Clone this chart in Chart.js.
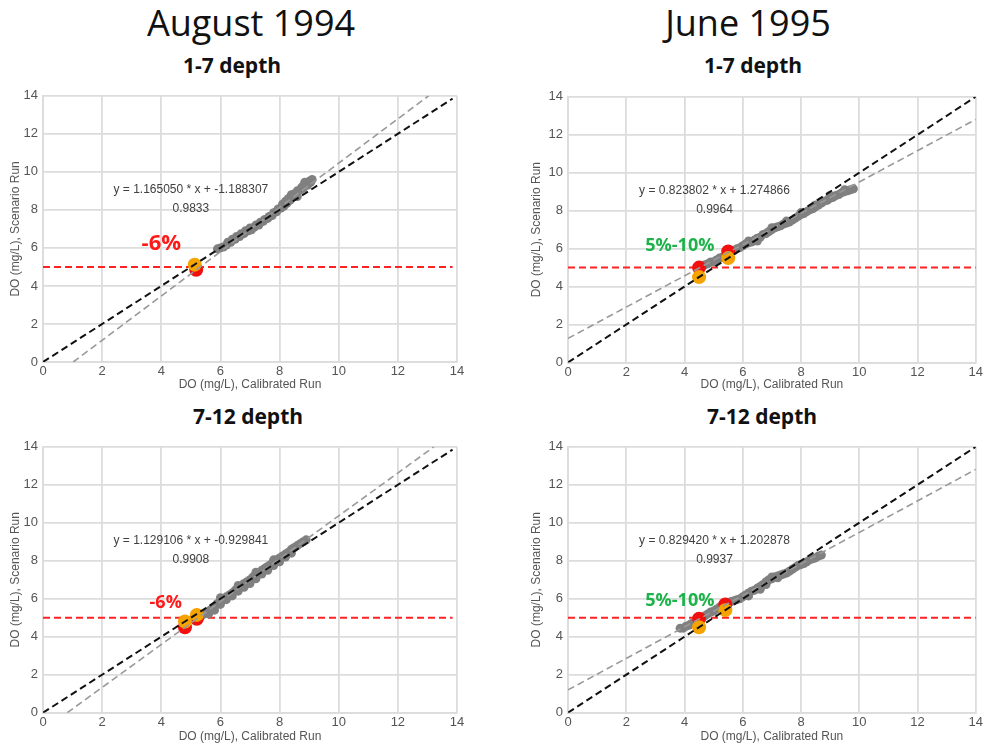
<!DOCTYPE html>
<html>
<head>
<meta charset="utf-8">
<script src="https://cdn.jsdelivr.net/npm/chart.js@4.4.1/dist/chart.umd.min.js"></script>
<style>
  html, body { margin: 0; padding: 0; background: #fff; }
  body { width: 986px; height: 749px; position: relative; overflow: hidden; }
  canvas { position: absolute; }
  .big { position: absolute; width: 400px; text-align: center; font-family: "Open Sans", sans-serif; font-size: 36px; line-height: 36px; color: #111; }
  .sub { position: absolute; width: 300px; text-align: center; font-family: "Open Sans", sans-serif; font-weight: 700; font-size: 21px; line-height: 22px; color: #111; }
</style>
</head>
<body>
<div class="big" style="left:51px; top:5px;">August 1994</div>
<div class="big" style="left:548px; top:5px;">June 1995</div>
<div class="sub" style="left:82px; top:54px;">1-7 depth</div>
<div class="sub" style="left:603px; top:54px;">1-7 depth</div>
<div class="sub" style="left:98px; top:405px;">7-12 depth</div>
<div class="sub" style="left:612px; top:405px;">7-12 depth</div>

<canvas id="c1" width="470" height="309" style="left:0px; top:83px;"></canvas>
<canvas id="c2" width="465" height="308" style="left:520px; top:84px;"></canvas>
<canvas id="c3" width="470" height="310" style="left:0px; top:434px;"></canvas>
<canvas id="c4" width="465" height="310" style="left:520px; top:434px;"></canvas>

<script>
// ---------- DATA ----------
const axisTicks = [0, 2, 4, 6, 8, 10, 12, 14];
const xAxisTitle = "DO (mg/L), Calibrated Run";
const yAxisTitle = "DO (mg/L), Scenario Run";

// Grey model points (Calibrated DO, Scenario DO)
const aug17Cloud = [[5.9,5.95],[6.0,6.0],[6.1,6.05],[6.2,6.15],[6.25,6.3],[6.35,6.3],[6.4,6.45],[6.5,6.45],[6.55,6.6],[6.65,6.6],[6.7,6.75],[6.8,6.75],[6.85,6.9],[6.95,6.9],[7.0,7.05],[7.05,6.95],[7.15,7.1],[7.2,7.2],[7.3,7.2],[7.35,7.35],[7.45,7.4],[7.5,7.5],[7.6,7.55],[7.65,7.65],[7.75,7.7],[7.8,7.85],[7.9,7.9],[7.95,8.05],[8.05,8.1],[8.1,8.3],[8.15,8.2],[8.2,8.45],[8.25,8.35],[8.3,8.6],[8.35,8.5],[8.45,8.7],[8.5,8.85],[8.55,8.75],[8.6,9.0],[8.7,9.05],[8.75,9.2],[8.8,9.15],[8.9,9.35],[8.95,9.3],[9.0,9.5],[9.05,9.45],[9.1,9.6],[8.4,8.8],[8.6,8.7],[8.85,9.45]];
const jun17Cloud = [[4.6,5.05],[4.7,5.15],[4.8,5.2],[4.9,5.3],[5.0,5.3],[5.1,5.4],[5.2,5.5],[5.3,5.55],[5.4,5.6],[5.5,5.7],[5.6,5.85],[5.7,5.9],[5.8,6.0],[5.9,6.05],[6.0,6.15],[6.1,6.25],[6.2,6.3],[6.2,6.4],[6.3,6.35],[6.4,6.45],[6.5,6.55],[6.5,6.4],[6.6,6.6],[6.7,6.75],[6.8,6.8],[6.9,6.9],[7.0,7.0],[7.0,7.1],[7.1,7.1],[7.2,7.15],[7.3,7.2],[7.4,7.3],[7.5,7.35],[7.5,7.45],[7.6,7.4],[7.7,7.5],[7.8,7.6],[7.9,7.7],[8.0,7.8],[8.0,7.9],[8.1,7.85],[8.2,7.95],[8.3,8.05],[8.4,8.1],[8.5,8.2],[8.5,8.3],[8.6,8.3],[8.7,8.4],[8.8,8.5],[8.9,8.55],[9.0,8.65],[9.0,8.8],[9.1,8.7],[9.2,8.8],[9.3,8.85],[9.4,8.95],[9.5,9.0],[9.5,9.1],[9.6,9.05],[9.7,9.1],[9.8,9.15]];
const aug712Cloud = [[5.3,5.0],[5.4,5.15],[5.5,5.25],[5.6,5.35],[5.6,5.2],[5.7,5.45],[5.8,5.6],[5.8,5.4],[5.9,5.75],[6.0,5.85],[6.0,5.7],[6.0,6.05],[6.1,5.95],[6.2,6.1],[6.2,5.95],[6.3,6.2],[6.4,6.3],[6.4,6.15],[6.5,6.45],[6.6,6.55],[6.6,6.4],[6.6,6.7],[6.7,6.65],[6.8,6.8],[6.8,6.6],[6.9,6.9],[7.0,7.0],[7.0,6.8],[7.1,7.15],[7.2,7.25],[7.2,7.05],[7.2,7.4],[7.3,7.35],[7.4,7.5],[7.4,7.3],[7.5,7.6],[7.6,7.7],[7.6,7.5],[7.7,7.8],[7.8,7.95],[7.8,7.75],[7.8,8.05],[7.9,8.05],[8.0,8.15],[8.0,7.95],[8.1,8.25],[8.2,8.35],[8.2,8.2],[8.3,8.45],[8.4,8.6],[8.4,8.4],[8.5,8.7],[8.6,8.8],[8.7,8.9],[8.8,9.0],[8.9,9.1]];
const jun712Cloud = [[3.85,4.45],[3.95,4.45],[4.05,4.55],[4.15,4.6],[4.25,4.7],[4.35,4.8],[4.45,4.9],[4.6,5.0],[4.7,5.1],[4.8,5.2],[4.9,5.3],[5.0,5.35],[5.1,5.45],[5.2,5.55],[5.3,5.65],[5.4,5.7],[5.5,5.8],[5.6,5.85],[5.7,5.9],[5.8,5.95],[5.9,6.0],[6.0,6.1],[6.1,6.2],[6.2,6.3],[6.2,6.15],[6.3,6.4],[6.4,6.45],[6.5,6.55],[6.6,6.65],[6.6,6.5],[6.7,6.75],[6.8,6.9],[6.8,6.75],[6.9,7.0],[7.0,7.05],[7.0,7.15],[7.1,7.15],[7.2,7.2],[7.2,7.1],[7.3,7.25],[7.4,7.3],[7.5,7.35],[7.6,7.45],[7.7,7.55],[7.8,7.65],[7.9,7.75],[8.0,7.8],[8.1,7.85],[8.2,7.95],[8.3,8.05],[8.4,8.1],[8.5,8.15],[8.6,8.25],[8.7,8.3]];

// Highlighted points
const aug17Red = [[5.18,4.85]];
const aug17Orange = [[5.13,5.12]];
const jun17Red = [[4.5,5.0],[5.5,5.85]];
const jun17Orange = [[4.5,4.5],[5.5,5.5]];
const aug712Red = [[4.8,4.5],[5.2,4.95]];
const aug712Orange = [[4.8,4.8],[5.2,5.15]];
const jun712Red = [[4.5,4.95],[5.4,5.7]];
const jun712Orange = [[4.5,4.5],[5.4,5.4]];

// Reference lines (endpoints in data units)
const aug17OneToOne = [[0,0],[13.85,13.85]];
const jun17OneToOne = [[0,0],[14,14]];
const aug712OneToOne = [[0,0],[13.85,13.85]];
const jun712OneToOne = [[0,0],[14,14]];
const aug17Fit = [[1.02,0],[13.04,14]];
const jun17Fit = [[0,1.27],[14,12.81]];
const aug712Fit = [[0.82,0],[13.22,14]];
const jun712Fit = [[0,1.20],[14,12.81]];
const aug17Threshold = [[0,5],[13.85,5]];
const jun17Threshold = [[0,5],[14,5]];
const aug712Threshold = [[0,5],[13.85,5]];
const jun712Threshold = [[0,5],[14,5]];

// Annotation texts and their anchor values
const equations = ["y = 1.165050 * x + -1.188307", "y = 0.823802 * x + 1.274866", "y = 1.129106 * x + -0.929841", "y = 0.829420 * x + 1.202878"];
const rSquared = ["0.9833", "0.9964", "0.9908", "0.9937"];
const eqAnchor = [[5.0,9.05],[5.03,9.06],[5.0,9.06],[5.03,9.06]];
const r2Anchor = [[5.0,8.05],[5.03,8.05],[5.0,8.05],[5.03,8.05]];
const changeLabels = ["-6%", "5%-10%", "-6%", "5%-10%"];
const changeColors = ["#ff1a1a", "#1db34a", "#ff1a1a", "#1db34a"];
const changeSizes = [22, 18, 18, 18];
const changeAnchor = [[4.0,6.23],[3.84,6.14],[4.15,5.79],[3.84,5.88]];

// ---------- CHART ----------
const toPts = a => a.map(p => ({x: p[0], y: p[1]}));

const textPlugin = {
  id: 'panelText',
  afterDatasetsDraw(chart) {
    const i = chart.options.plugins.panelText.index;
    const {ctx, scales: {x, y}} = chart;
    ctx.save();
    ctx.textAlign = 'center';
    ctx.textBaseline = 'middle';
    ctx.fillStyle = '#404040';
    ctx.font = '12px "Liberation Sans", Arial, sans-serif';
    ctx.fillText(equations[i], x.getPixelForValue(eqAnchor[i][0]), y.getPixelForValue(eqAnchor[i][1]));
    ctx.fillText(rSquared[i], x.getPixelForValue(r2Anchor[i][0]), y.getPixelForValue(r2Anchor[i][1]));
    ctx.fillStyle = changeColors[i];
    ctx.font = 'bold ' + changeSizes[i] + 'px "Open Sans", sans-serif';
    ctx.fillText(changeLabels[i], x.getPixelForValue(changeAnchor[i][0]), y.getPixelForValue(changeAnchor[i][1]));
    ctx.restore();
  }
};

function makePanel(id, index, cloud, red, orange, oneToOne, fit, threshold, yW, xH, yTitlePad, padRight) {
  const lineDs = (data, color, width, dash, order) => ({
    type: 'line', data: toPts(data), borderColor: color, borderWidth: width,
    borderDash: dash, pointRadius: 0, fill: false, order: order
  });
  new Chart(document.getElementById(id), {
    type: 'scatter',
    data: {
      datasets: [
        lineDs(oneToOne, '#111111', 2, [7, 4], 1),
        lineDs(fit, '#999999', 1.6, [7, 4], 2),
        {data: toPts(orange), backgroundColor: '#f5a300', borderWidth: 0, pointRadius: 7, order: 3},
        {data: toPts(red), backgroundColor: '#f01010', borderWidth: 0, pointRadius: 7, order: 4},
        {data: toPts(cloud), backgroundColor: '#808080', borderWidth: 0, pointRadius: 4.5, order: 5},
        lineDs(threshold, '#ff2222', 2, [7, 4], 6)
      ]
    },
    options: {
      responsive: false,
      animation: false,
      devicePixelRatio: 1,
      layout: {padding: {top: 10, right: padRight, bottom: 0, left: 0}},
      plugins: {legend: {display: false}, tooltip: {enabled: false}, panelText: {index: index}},
      scales: {
        x: {
          type: 'linear', min: axisTicks[0], max: axisTicks[axisTicks.length - 1],
          afterBuildTicks: s => { s.ticks = axisTicks.map(v => ({value: v})); },
          afterFit: s => { s.height = xH; },
          grid: {color: '#dcdcdc', lineWidth: 1.8, drawTicks: false},
          border: {color: '#dcdcdc', width: 1.8},
          ticks: {color: '#555', padding: 2, font: {family: '"Liberation Sans", Arial, sans-serif', size: 13}, maxRotation: 0},
          title: {display: true, text: xAxisTitle, color: '#555', padding: {top: 0, bottom: 0}, font: {family: '"Liberation Sans", Arial, sans-serif', size: 12}}
        },
        y: {
          type: 'linear', min: axisTicks[0], max: axisTicks[axisTicks.length - 1],
          afterBuildTicks: s => { s.ticks = axisTicks.map(v => ({value: v})); },
          afterFit: s => { s.width = yW; },
          grid: {color: '#dcdcdc', lineWidth: 1.8, drawTicks: false},
          border: {color: '#dcdcdc', width: 1.8},
          ticks: {color: '#555', padding: 5, font: {family: '"Liberation Sans", Arial, sans-serif', size: 13}},
          title: {display: true, text: yAxisTitle, color: '#555', padding: {top: yTitlePad, bottom: 0}, font: {family: '"Liberation Sans", Arial, sans-serif', size: 12}}
        }
      }
    },
    plugins: [textPlugin]
  });
}

makePanel('c1', 0, aug17Cloud, aug17Red, aug17Orange, aug17OneToOne, aug17Fit, aug17Threshold, 43, 30, 8, 13);
makePanel('c2', 1, jun17Cloud, jun17Red, jun17Orange, jun17OneToOne, jun17Fit, jun17Threshold, 48, 29.5, 9.5, 8);
makePanel('c3', 2, aug712Cloud, aug712Red, aug712Orange, aug712OneToOne, aug712Fit, aug712Threshold, 43, 31.3, 8, 13);
makePanel('c4', 3, jun712Cloud, jun712Red, jun712Orange, jun712OneToOne, jun712Fit, jun712Threshold, 48, 31.3, 9.5, 8);
</script>
</body>
</html>
